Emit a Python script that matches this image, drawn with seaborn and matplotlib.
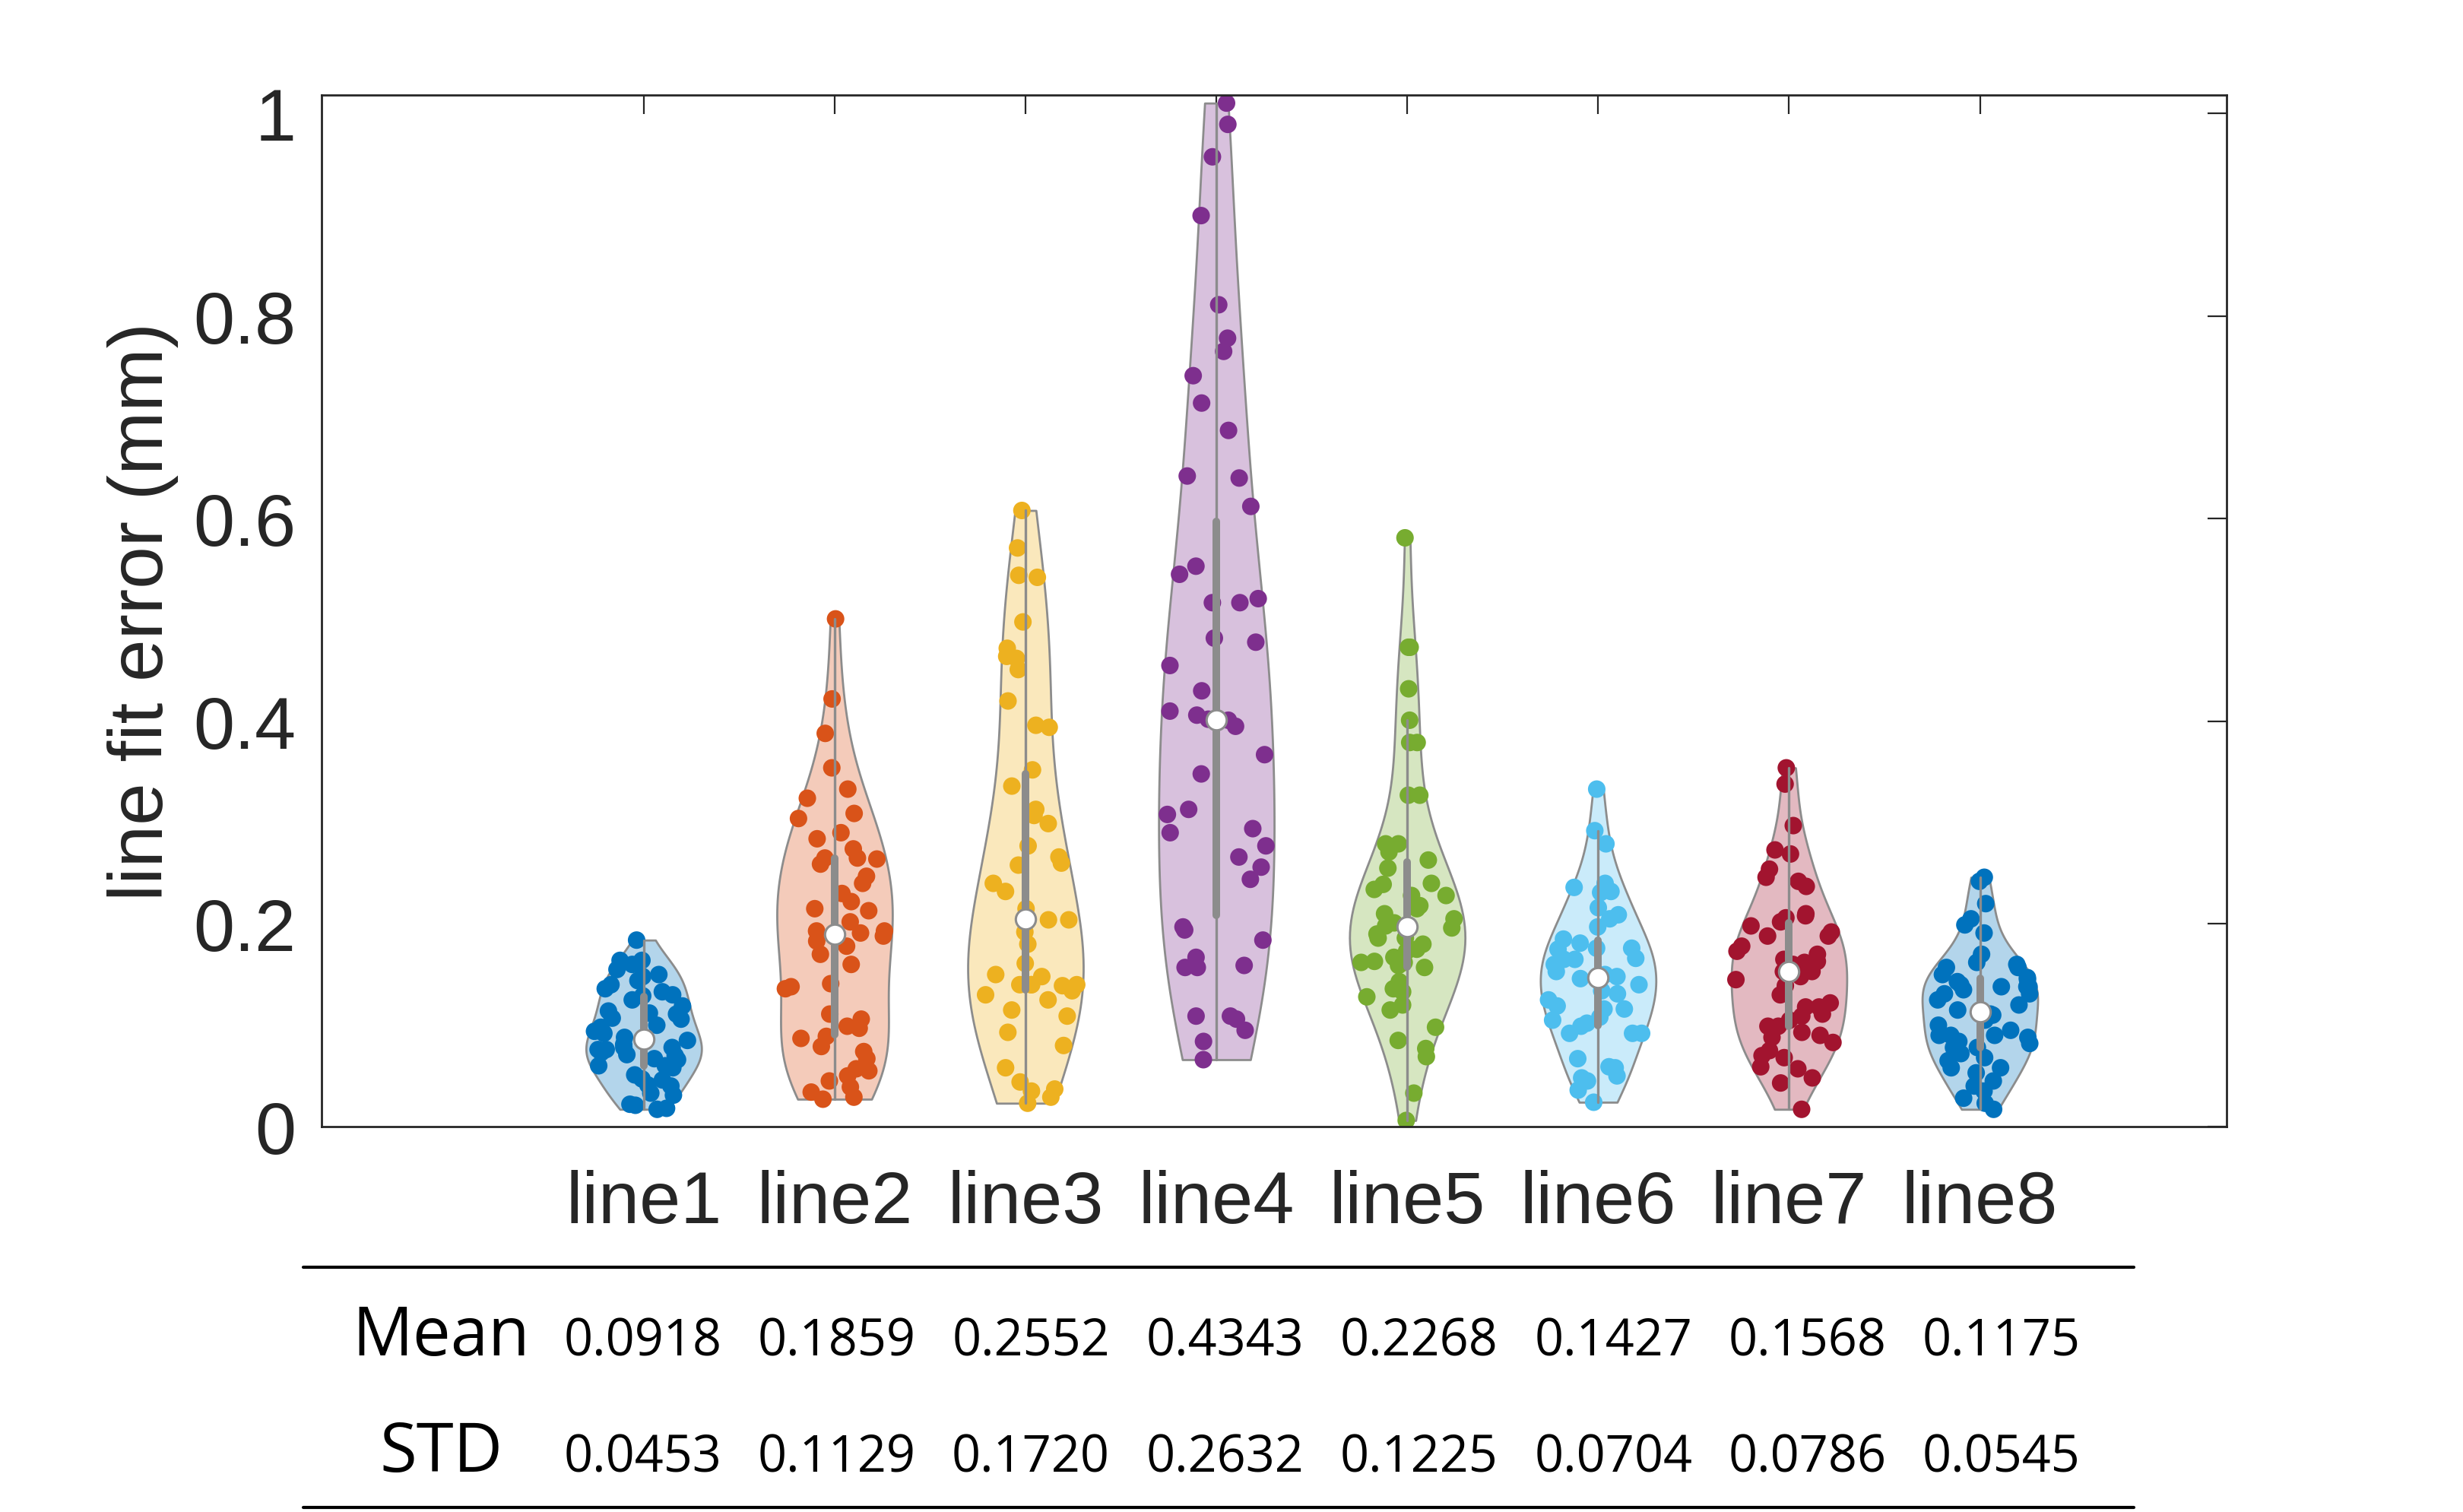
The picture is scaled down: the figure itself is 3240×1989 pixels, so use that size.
import numpy as np
import pandas as pd
import matplotlib.pyplot as plt
import matplotlib.colors as mcolors
from matplotlib.lines import Line2D
import seaborn as sns


# Данные
categories = ["line1", "line2", "line3", "line4", "line5", "line6", "line7", "line8"]

line1 = [0.184, 0.164, 0.164, 0.150, 0.144, 0.148, 0.136, 0.129, 0.119, 0.130,
         0.133, 0.114, 0.106, 0.111, 0.107, 0.100, 0.094, 0.092, 0.081, 0.076,
         0.078, 0.066, 0.071, 0.078, 0.073, 0.076, 0.060, 0.067, 0.060, 0.047,
         0.051, 0.040, 0.046, 0.033, 0.041, 0.031, 0.018, 0.021, 0.022, 0.017,
         0.155, 0.125, 0.098, 0.088, 0.140, 0.160, 0.070, 0.085, 0.058, 0.112]
line2 = [0.501, 0.422, 0.388, 0.354, 0.333, 0.324, 0.304, 0.309, 0.284, 0.274,
         0.265, 0.264, 0.265, 0.259, 0.247, 0.240, 0.222, 0.213, 0.202, 0.193,
         0.183, 0.191, 0.188, 0.193, 0.178, 0.170, 0.141, 0.138, 0.136, 0.106,
         0.111, 0.099, 0.097, 0.089, 0.079, 0.087, 0.074, 0.067, 0.057, 0.055,
         0.050, 0.039, 0.034, 0.029, 0.027, 0.045, 0.215, 0.230, 0.160, 0.290]
line3 = [0.608, 0.571, 0.542, 0.544, 0.498, 0.472, 0.462, 0.464, 0.451, 0.396,
         0.394, 0.352, 0.336, 0.313, 0.307, 0.299, 0.277, 0.266, 0.258, 0.232,
         0.206, 0.204, 0.204, 0.192, 0.161, 0.148, 0.140, 0.140, 0.140, 0.134,
         0.139, 0.130, 0.140, 0.115, 0.109, 0.093, 0.080, 0.058, 0.044, 0.037,
         0.035, 0.029, 0.023, 0.150, 0.125, 0.180, 0.215, 0.420, 0.240, 0.260]
line4 = [1.010, 0.989, 0.957, 0.899, 0.811, 0.778, 0.765, 0.741, 0.714, 0.687,
         0.642, 0.640, 0.612, 0.553, 0.545, 0.521, 0.517, 0.517, 0.482, 0.478,
         0.430, 0.410, 0.401, 0.406, 0.395, 0.367, 0.348, 0.313, 0.308, 0.294,
         0.290, 0.277, 0.266, 0.256, 0.244, 0.194, 0.197, 0.184, 0.167, 0.159,
         0.157, 0.157, 0.109, 0.109, 0.106, 0.095, 0.084, 0.066, 0.455, 0.402]
line5 = [0.581, 0.473, 0.473, 0.432, 0.401, 0.379, 0.379, 0.327, 0.327, 0.279,
         0.279, 0.271, 0.263, 0.239, 0.240, 0.228, 0.228, 0.234, 0.218, 0.201,
         0.196, 0.190, 0.186, 0.186, 0.173, 0.163, 0.167, 0.157, 0.162, 0.162,
         0.159, 0.143, 0.133, 0.128, 0.115, 0.098, 0.077, 0.069, 0.033, 0.006,
         0.205, 0.198, 0.215, 0.175, 0.120, 0.255, 0.085, 0.180, 0.210, 0.136]
line6 = [0.333, 0.292, 0.279, 0.231, 0.236, 0.232, 0.216, 0.209, 0.197, 0.181,
         0.176, 0.165, 0.165, 0.176, 0.166, 0.153, 0.146, 0.134, 0.131, 0.119,
         0.116, 0.116, 0.108, 0.102, 0.099, 0.092, 0.092, 0.092, 0.067, 0.059,
         0.058, 0.050, 0.045, 0.048, 0.036, 0.024, 0.150, 0.140, 0.125, 0.160,
         0.205, 0.148, 0.185, 0.175, 0.105, 0.240]
line7 = [0.354, 0.338, 0.297, 0.273, 0.269, 0.254, 0.246, 0.242, 0.237, 0.206,
         0.202, 0.208, 0.198, 0.188, 0.188, 0.192, 0.178, 0.173, 0.170, 0.165,
         0.163, 0.162, 0.153, 0.153, 0.148, 0.145, 0.139, 0.122, 0.118, 0.118,
         0.109, 0.111, 0.099, 0.099, 0.093, 0.090, 0.088, 0.070, 0.075, 0.068,
         0.059, 0.057, 0.048, 0.043, 0.017, 0.130, 0.160, 0.083, 0.210, 0.105]
line8 = [0.246, 0.242, 0.220, 0.205, 0.199, 0.191, 0.170, 0.162, 0.157, 0.157,
         0.150, 0.145, 0.140, 0.143, 0.138, 0.138, 0.138, 0.131, 0.131, 0.120,
         0.110, 0.115, 0.111, 0.100, 0.095, 0.090, 0.090, 0.090, 0.084, 0.078,
         0.078, 0.072, 0.068, 0.058, 0.058, 0.053, 0.040, 0.035, 0.028, 0.017,
         0.125, 0.105, 0.088, 0.065, 0.045, 0.147, 0.082, 0.135, 0.023, 0.160]

groups = [line1, line2, line3, line4, line5, line6, line7, line8]

mean_vals = ["0.0918", "0.1859", "0.2552", "0.4343", "0.2268", "0.1427", "0.1568", "0.1175"]
std_vals = ["0.0453", "0.1129", "0.1720", "0.2632", "0.1225", "0.0704", "0.0786", "0.0545"]

ytick_vals = [0, 0.2, 0.4, 0.6, 0.8, 1]
ytick_labels = ["0", "0.2", "0.4", "0.6", "0.8", "1"]

# Цвета MATLAB
matlab_colors = ["#0072BD", "#D95319", "#EDB120", "#7E2F8E",
                 "#77AC30", "#4DBEEE", "#A2142F", "#0072BD"]

VIOLIN_WIDTH = 0.605
JITTER = 0.3
EDGE_GRAY = "#8c8c8c"
AXIS_COLOR = "#262626"


def lighten(c, a=0.3):
    rgb = np.array(mcolors.to_rgb(c))
    return tuple(rgb * a + (1 - a))


def half_width(vals, y, width=VIOLIN_WIDTH):
    # та же оценка плотности, что и у скрипки (scott)
    vals = np.asarray(vals)
    bw = vals.std(ddof=1) * len(vals) ** (-0.2)

    def dens(t):
        return np.exp(-0.5 * ((t[:, None] - vals[None, :]) / bw) ** 2).sum(axis=1)

    grid = np.linspace(vals.min(), vals.max(), 300)
    return dens(np.asarray(y)) / dens(grid).max() * width / 2


df = pd.DataFrame({
    "line": np.repeat(categories, [len(g) for g in groups]),
    "error": np.concatenate(groups),
})

sns.set_style("white")
plt.rcParams["font.family"] = ["Liberation Sans", "DejaVu Sans"]

fig = plt.figure(figsize=(16.205, 9.95), dpi=200)
ax = fig.add_axes([0.1305, 0.2548, 0.9038 - 0.1305, 0.9367 - 0.2548])

light = [lighten(c) for c in matlab_colors]
sns.violinplot(
    data=df, x="line", y="error", hue="line", order=categories,
    hue_order=categories, palette=light, saturation=1, legend=False,
    cut=0, density_norm="width", width=VIOLIN_WIDTH, linewidth=1.0,
    linecolor=EDGE_GRAY, inner="box",
    inner_kws=dict(box_width=3.6, whis_width=1.2, marker="o",
                   markersize=9.5, markeredgewidth=1.1),
    ax=ax,
)

# белая точка медианы с серой обводкой
for ln in ax.lines:
    if ln.get_marker() not in (None, "None", "", " "):
        ln.set_marker("o")
        ln.set_markersize(9.5)
        ln.set_markeredgewidth(1.1)
        ln.set_markeredgecolor(EDGE_GRAY)
        ln.set_markerfacecolor("white")
        ln.set_zorder(4)
    else:
        ln.set_zorder(3)

n_before = len(ax.collections)
np.random.seed(11)
sns.stripplot(
    data=df, x="line", y="error", hue="line", order=categories,
    hue_order=categories, palette=matlab_colors, legend=False,
    jitter=JITTER, size=8.3, linewidth=0, ax=ax,
)

# разброс точек по ширине скрипки
for coll in ax.collections[n_before:]:
    off = np.array(coll.get_offsets())
    if len(off) == 0:
        continue
    i = int(round(np.median(off[:, 0])))
    u = (off[:, 0] - i) / JITTER
    off[:, 0] = i + u * half_width(groups[i], off[:, 1]) * 0.95
    coll.set_offsets(off)
    coll.set_zorder(2)

ax.set_xlim(-1.688, 8.293)
ax.set_ylim(0, 1.018)
ax.set_yticks(ytick_vals)
ax.set_yticklabels(ytick_labels)
ax.set_xlabel("")
ax.set_ylabel("line fit error (mm)", fontsize=36, color=AXIS_COLOR)
ax.yaxis.set_label_coords(-0.075, 0.5)

ax.tick_params(axis="both", direction="in", length=9, width=0.8,
               top=True, right=True, colors=AXIS_COLOR, labelsize=35)
ax.tick_params(axis="x", pad=20)
ax.tick_params(axis="y", pad=12)
for sp in ax.spines.values():
    sp.set_visible(True)
    sp.set_color(AXIS_COLOR)
    sp.set_linewidth(1.0)

# Таблица со статистикой под графиком
col_x = [0.2608 + 0.0788 * k for k in range(len(categories))]
table_font = ["Open Sans", "DejaVu Sans"]
fig.text(0.179, 0.104, "Mean", ha="center", va="baseline", fontsize=32,
         family=table_font, color="black")
fig.text(0.179, 0.027, "STD", ha="center", va="baseline", fontsize=32,
         family=table_font, color="black")
for xx, m, s in zip(col_x, mean_vals, std_vals):
    fig.text(xx, 0.104, m, ha="center", va="baseline", fontsize=24,
             family=table_font, color="black")
    fig.text(xx, 0.027, s, ha="center", va="baseline", fontsize=24,
             family=table_font, color="black")

fig.add_artist(Line2D([0.123, 0.866], [0.1618, 0.1618], transform=fig.transFigure,
                      color="black", linewidth=1.5))
fig.add_artist(Line2D([0.123, 0.866], [0.003, 0.003], transform=fig.transFigure,
                      color="black", linewidth=1.5))

fig.savefig("out.png", dpi=200)
plt.close(fig)
